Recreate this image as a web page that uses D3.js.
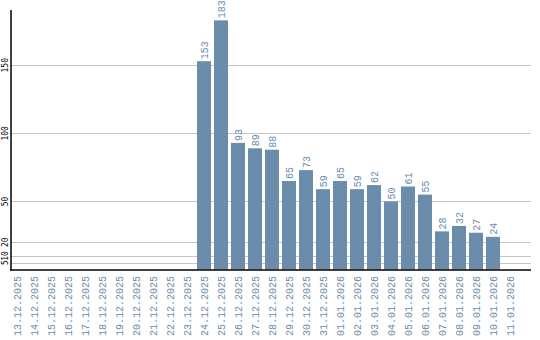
<!DOCTYPE html>
<html>
<head>
<meta charset="utf-8">
<script src="https://cdn.jsdelivr.net/npm/d3@7"></script>
<style>
  body { margin: 0; background: #fff; }
  text { font-family: "Liberation Mono", monospace; }
  .ytick { font-family: "DejaVu Sans Mono", monospace; }
</style>
</head>
<body>
<div id="chart"></div>
<script>
// dates shown on the x axis
var dates = ["13.12.2025", "14.12.2025", "15.12.2025", "16.12.2025", "17.12.2025",
  "18.12.2025", "19.12.2025", "20.12.2025", "21.12.2025", "22.12.2025", "23.12.2025",
  "24.12.2025", "25.12.2025", "26.12.2025", "27.12.2025", "28.12.2025", "29.12.2025",
  "30.12.2025", "31.12.2025", "01.01.2026", "02.01.2026", "03.01.2026", "04.01.2026",
  "05.01.2026", "06.01.2026", "07.01.2026", "08.01.2026", "09.01.2026", "10.01.2026",
  "11.01.2026"];
// counts per day (0 = no bar)
var counts = [0, 0, 0, 0, 0, 0, 0, 0, 0, 0, 0,
  153, 183, 93, 89, 88, 65, 73, 59, 65, 59, 62, 50, 61, 55, 28, 32, 27, 24, 0];
var yTicks = [5, 10, 20, 50, 100, 150];

var width = 540, height = 340;
var barColor = "#6b8cab";

var svg = d3.select("#chart").append("svg")
    .attr("width", width)
    .attr("height", height);

var x = d3.scaleBand()
    .domain(dates)
    .range([8.5, 518.5])
    .paddingInner(3 / 17)
    .paddingOuter(3 / 34);

var y = d3.scaleLinear()
    .domain([0, 190.6])
    .range([269.5, 10]);

// grid lines
svg.append("g").selectAll("line")
    .data(yTicks)
  .enter().append("line")
    .attr("x1", 11)
    .attr("x2", 531)
    .attr("y1", function(d) { return Math.round(y(d)) + 0.5; })
    .attr("y2", function(d) { return Math.round(y(d)) + 0.5; })
    .attr("stroke", "#c4c4c4")
    .attr("stroke-width", 1);

// y tick labels
svg.append("g").selectAll("text")
    .data(yTicks)
  .enter().append("text")
    .attr("class", "ytick")
    .attr("transform", function(d) { return "translate(8," + y(d) + ") rotate(-90)"; })
    .attr("text-anchor", "middle")
    .style("font-size", "8px")
    .attr("fill", "#000")
    .text(function(d) { return d; });

// bars
var data = dates.map(function(d, i) { return {date: d, value: counts[i]}; });

svg.append("g").selectAll("rect")
    .data(data.filter(function(d) { return d.value > 0; }))
  .enter().append("rect")
    .attr("x", function(d) { return x(d.date); })
    .attr("y", function(d) { return y(d.value); })
    .attr("width", x.bandwidth())
    .attr("height", function(d) { return y(0) - y(d.value); })
    .attr("fill", barColor);

// value labels
svg.append("g").selectAll("text")
    .data(data.filter(function(d) { return d.value > 0; }))
  .enter().append("text")
    .attr("transform", function(d) {
      return "translate(" + (x(d.date) + x.bandwidth() / 2 + 3.5) + "," + (y(d.value) - 2) + ") rotate(-90)";
    })
    .attr("text-anchor", "start")
    .style("font-size", "10px")
    .attr("fill", barColor)
    .text(function(d) { return d.value; });

// x labels
svg.append("g").selectAll("text")
    .data(dates)
  .enter().append("text")
    .attr("transform", function(d) {
      return "translate(" + (x(d) + x.bandwidth() / 2 + 3.5) + ",276) rotate(-90)";
    })
    .attr("text-anchor", "end")
    .style("font-size", "10px")
    .attr("fill", barColor)
    .text(function(d) { return d; });

// axes lines
svg.append("line")
    .attr("x1", 11).attr("x2", 11)
    .attr("y1", 10).attr("y2", 270.5)
    .attr("stroke", "#000").attr("stroke-width", 1.5);
svg.append("line")
    .attr("x1", 10).attr("x2", 531)
    .attr("y1", 270).attr("y2", 270)
    .attr("stroke", "#000").attr("stroke-width", 1.5);
</script>
</body>
</html>
